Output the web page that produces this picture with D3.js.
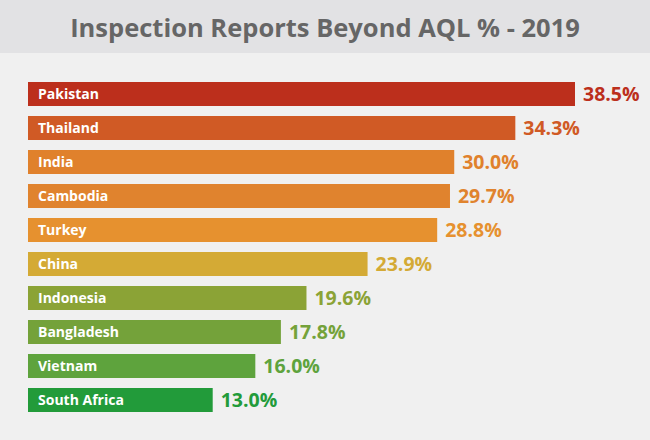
<!DOCTYPE html>
<html>
<head>
<meta charset="utf-8">
<script src="https://cdn.jsdelivr.net/npm/d3@7"></script>
<style>
	body { margin: 0; background: #f0f0f0; }
	svg { display: block; font-family: "Open Sans", Lato, sans-serif; }
</style>
</head>
<body>
<svg id="chart" width="650" height="440"></svg>
<script>
const countries = ["Pakistan", "Thailand", "India", "Cambodia", "Turkey", "China", "Indonesia", "Bangladesh", "Vietnam", "South Africa"];
const values = [38.5, 34.3, 30.0, 29.7, 28.8, 23.9, 19.6, 17.8, 16.0, 13.0];
const colors = ["#bc2f1c", "#d05a25", "#e0812c", "#e0832e", "#e6912f", "#d4aa35", "#8ba336", "#74a23a", "#5ea33d", "#229b3a"];

const svg = d3.select("#chart");
const W = 650, H = 440;

// header band
svg.append("rect").attr("width", W).attr("height", H).attr("fill", "#f0f0f0");
svg.append("rect").attr("width", W).attr("height", 53).attr("fill", "#e2e2e4");
svg.append("text")
	.attr("x", W / 2).attr("y", 37)
	.attr("text-anchor", "middle")
	.attr("font-size", 25.5).attr("font-weight", "bold")
	.attr("fill", "#666666")
	.text("Inspection Reports Beyond AQL % - 2019");

const x = d3.scaleLinear().domain([0, 38.5]).range([28, 575]);
// 24px bars on a 34px step
const y = d3.scaleBand().domain(countries).range([82, 412]).paddingInner(10 / 34).paddingOuter(0);

const rows = svg.selectAll("g.row")
	.data(countries)
	.enter()
	.append("g")
	.attr("class", "row");

rows.append("rect")
	.attr("x", x(0))
	.attr("y", (d) => y(d))
	.attr("width", (d, i) => x(values[i]) - x(0))
	.attr("height", y.bandwidth())
	.attr("fill", (d, i) => colors[i]);

rows.append("text")
	.attr("x", x(0) + 10)
	.attr("y", (d) => y(d) + y.bandwidth() / 2)
	.attr("dy", "0.36em")
	.attr("font-size", 14).attr("font-weight", "bold")
	.attr("fill", "#ffffff")
	.text((d) => d);

rows.append("text")
	.attr("x", (d, i) => x(values[i]) + 8)
	.attr("y", (d) => y(d) + y.bandwidth() / 2)
	.attr("dy", "0.36em")
	.attr("font-size", 19.5).attr("font-weight", "bold")
	.attr("fill", (d, i) => colors[i])
	.text((d, i) => values[i].toFixed(1) + "%");
</script>
</body>
</html>
